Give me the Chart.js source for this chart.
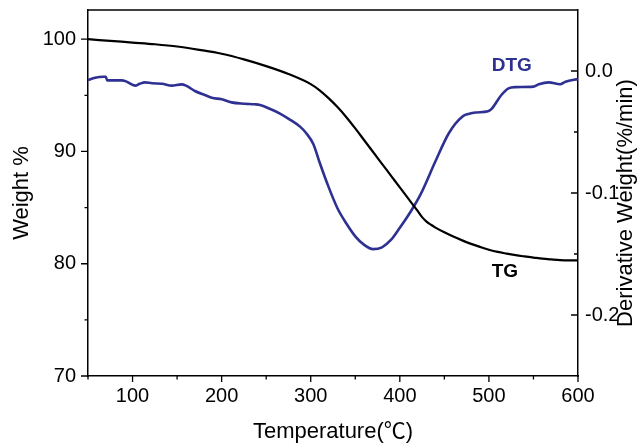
<!DOCTYPE html>
<html>
<head>
  <meta charset="UTF-8">
  <title>TG / DTG</title>
  <script src="https://cdn.jsdelivr.net/npm/chart.js"></script>
  <style>
    body {
      margin: 0;
      padding: 0;
      background: #fff;
    }
    #chart-container {
      width: 638px;
      height: 443px;
    }
  </style>
</head>
<body>
  <div id="chart-container">
    <canvas id="myChart"></canvas>
  </div>
  <script>
    // TG curve: weight % vs temperature
    const tgTemps = [50, 75, 100, 125, 150, 175, 200, 225, 250, 275, 300, 310, 320, 330, 340, 350, 360, 370, 380, 390, 400, 410, 420, 425, 430, 435, 440, 450, 460, 470, 480, 490, 500, 510, 520, 530, 540, 550, 560, 570, 580, 590, 600];
    const tgWeight = [100.0, 99.85, 99.7, 99.55, 99.35, 99.05, 98.7, 98.2, 97.6, 96.9, 96.0, 95.45, 94.75, 93.95, 93.05, 92.05, 91.0, 89.95, 88.9, 87.85, 86.8, 85.75, 84.7, 84.15, 83.75, 83.47, 83.22, 82.8, 82.42, 82.08, 81.77, 81.5, 81.25, 81.05, 80.9, 80.76, 80.65, 80.55, 80.45, 80.38, 80.32, 80.3, 80.3];

    // DTG curve: derivative weight (%/min) vs temperature
    const dtgTemps = [50, 58, 67, 70, 71.5, 80, 88, 92, 103, 108, 114, 122, 133, 144, 155, 160, 170, 181, 189, 200, 211, 226, 237, 243, 254, 265, 277, 288, 295, 303, 310, 320, 330, 340, 350, 360, 370, 380, 390, 400, 411, 423, 440, 455, 470, 478, 485, 499, 503, 514, 522, 530, 550, 556, 567, 580, 586, 600];
    const dtgValues = [-0.0074, -0.0055, -0.0047, -0.0047, -0.0077, -0.0077, -0.0077, -0.0083, -0.012, -0.0105, -0.0093, -0.0101, -0.0104, -0.012, -0.011, -0.012, -0.0164, -0.0197, -0.0219, -0.0232, -0.0257, -0.0268, -0.0273, -0.0279, -0.031, -0.0347, -0.040, -0.0456, -0.051, -0.060, -0.075, -0.095, -0.1125, -0.125, -0.1355, -0.1425, -0.146, -0.1445, -0.1385, -0.1285, -0.1166, -0.1016, -0.074, -0.051, -0.0375, -0.035, -0.034, -0.033, -0.0311, -0.0197, -0.0142, -0.0132, -0.0128, -0.0109, -0.0093, -0.0109, -0.0088, -0.0066];

    const xMin = 50, xMax = 600;
    const wMin = 70, wMax = 102.6;
    const dMin = -0.25, dMax = 0.05;

    const FONT = "'Liberation Sans', Arial, 'Noto Sans CJK SC', sans-serif";
    const DTG_COLOR = '#2e3192';

    const pts = (xs, ys) => xs.map((x, i) => ({ x: x, y: ys[i] }));

    // outward ticks on bottom/left, inward on right, plus the top frame and labels
    const decorations = {
      id: 'decorations',
      afterDraw(chart) {
        const ctx = chart.ctx;
        const area = chart.chartArea;
        const { x, y, y2 } = chart.scales;
        ctx.save();
        ctx.strokeStyle = '#000';
        ctx.lineWidth = 1.5;
        ctx.beginPath();
        ctx.moveTo(area.left, area.top);
        ctx.lineTo(area.right, area.top);
        ctx.stroke();

        ctx.lineWidth = 1.3;
        ctx.beginPath();
        x.ticks.forEach(t => {
          const px = x.getPixelForValue(t.value);
          const len = t.value % 100 === 0 ? 6 : 3.5;
          ctx.moveTo(px, area.bottom);
          ctx.lineTo(px, area.bottom + len);
        });
        y.ticks.forEach(t => {
          const py = y.getPixelForValue(t.value);
          const len = t.value % 10 === 0 ? 7 : 3.5;
          ctx.moveTo(area.left, py);
          ctx.lineTo(area.left - len, py);
        });
        y2.ticks.forEach(t => {
          const py = y2.getPixelForValue(t.value);
          if (py < area.top + 2 || py > area.bottom - 2) return;
          const major = Math.round(t.value * 100) % 10 === 0;
          const len = major ? 7 : 4;
          ctx.moveTo(area.right, py);
          ctx.lineTo(area.right - len, py);
        });
        ctx.stroke();

        // curve names
        ctx.font = 'bold 19px ' + FONT;
        ctx.textAlign = 'center';
        ctx.textBaseline = 'middle';
        ctx.fillStyle = DTG_COLOR;
        ctx.fillText('DTG', x.getPixelForValue(525.6), y2.getPixelForValue(0.004));
        ctx.fillStyle = '#000';
        ctx.fillText('TG', x.getPixelForValue(518), y.getPixelForValue(79.26));

        // right axis title, reading bottom to top
        ctx.font = '22px ' + FONT;
        ctx.translate(626, (area.top + area.bottom) / 2 + 10);
        ctx.rotate(-Math.PI / 2);
        ctx.fillText('Derivative Weight(%/min)', 0, 0);
        ctx.restore();
      }
    };

    const ctx = document.getElementById('myChart').getContext('2d');
    window.myChart = new Chart(ctx, {
      type: 'scatter',
      data: {
        datasets: [
          {
            label: 'TG',
            data: pts(tgTemps, tgWeight),
            yAxisID: 'y',
            showLine: true,
            borderColor: '#000',
            borderWidth: 2.2,
            pointRadius: 0,
            cubicInterpolationMode: 'monotone'
          },
          {
            label: 'DTG',
            data: pts(dtgTemps, dtgValues),
            yAxisID: 'y2',
            showLine: true,
            borderColor: DTG_COLOR,
            borderWidth: 2.6,
            pointRadius: 0,
            cubicInterpolationMode: 'monotone'
          }
        ]
      },
      options: {
        responsive: true,
        maintainAspectRatio: false,
        animation: false,
        layout: { padding: { top: 10, left: 0, right: 0, bottom: 0 } },
        plugins: {
          legend: { display: false },
          tooltip: { enabled: false }
        },
        scales: {
          x: {
            type: 'linear',
            position: 'bottom',
            min: xMin,
            max: xMax,
            ticks: {
              stepSize: 50,
              padding: 8,
              color: '#000',
              maxRotation: 0,
              autoSkip: false,
              font: { family: FONT, size: 20 },
              callback: v => (v % 100 === 0 ? String(v) : '')
            },
            grid: { display: false, drawTicks: false },
            border: { display: true, color: '#000', width: 1.5 },
            title: {
              display: true,
              text: 'Temperature(℃)',
              color: '#000',
              font: { family: FONT, size: 22, lineHeight: 1 },
              padding: { top: 0, bottom: 0 }
            },
            afterFit: s => { s.height = 67; s.paddingLeft = 0; s.paddingRight = 0; }
          },
          y: {
            type: 'linear',
            position: 'left',
            min: wMin,
            max: wMax,
            ticks: {
              stepSize: 5,
              includeBounds: false,
              padding: 12,
              color: '#000',
              autoSkip: false,
              font: { family: FONT, size: 20 },
              callback: v => (v % 10 === 0 ? String(v) : '')
            },
            grid: { display: false, drawTicks: false },
            border: { display: true, color: '#000', width: 1.5 },
            title: {
              display: true,
              text: 'Weight %',
              color: '#000',
              font: { family: FONT, size: 22, lineHeight: 1 },
              padding: { top: 11, bottom: 0 }
            },
            afterFit: s => { s.width = 88; s.paddingTop = 0; s.paddingBottom = 0; }
          },
          y2: {
            type: 'linear',
            position: 'right',
            min: dMin,
            max: dMax,
            ticks: {
              stepSize: 0.05,
              includeBounds: false,
              padding: 7,
              color: '#000',
              autoSkip: false,
              font: { family: FONT, size: 20 },
              callback: v => {
                const r = Math.round(v * 100);
                if (r % 10 !== 0 || r > 0) return '';
                return r === 0 ? '0.0' : (r / 100).toFixed(1);
              }
            },
            grid: { display: false, drawTicks: false },
            border: { display: true, color: '#000', width: 1.5 },
            afterFit: s => { s.width = 60; s.paddingTop = 0; s.paddingBottom = 0; }
          }
        }
      },
      plugins: [decorations]
    });
  </script>
</body>
</html>
